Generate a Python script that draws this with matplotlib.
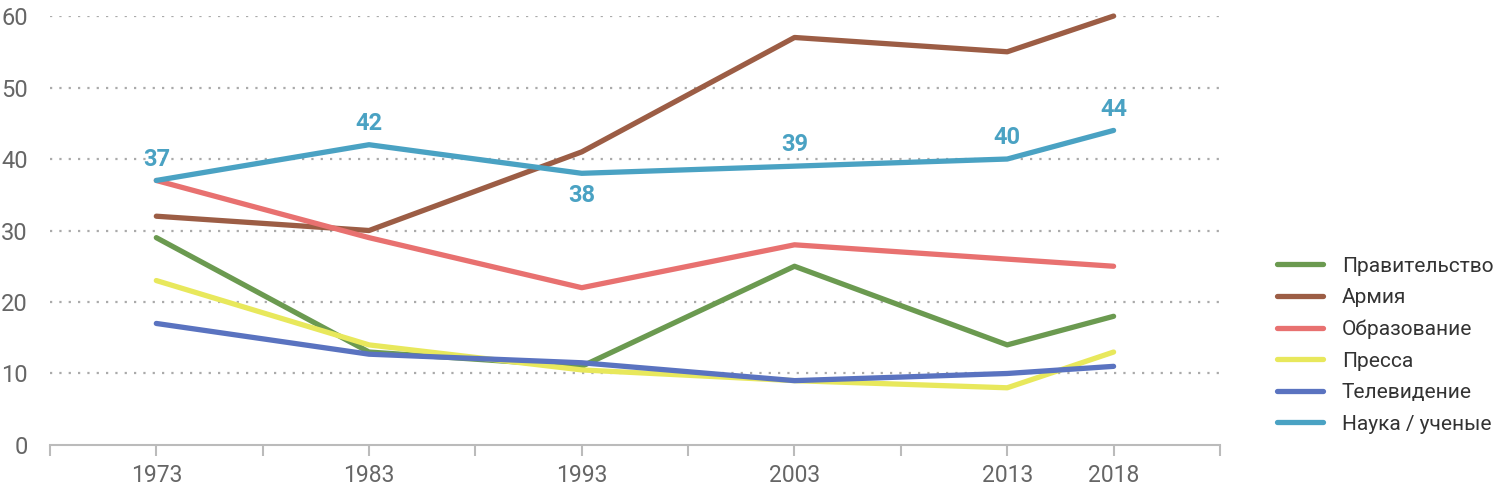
import matplotlib.pyplot as plt

years = [1973, 1983, 1993, 2003, 2013, 2018]
tick_years = [1968, 1973, 1978, 1983, 1988, 1993, 1998, 2003, 2008, 2013, 2018, 2023]
shown_labels = [1973, 1983, 1993, 2003, 2013, 2018]

# confidence, %
pravitelstvo = [29, 13, 11, 25, 14, 18]
armiya = [32, 30, 41, 57, 55, 60]
obrazovanie = [37, 29, 22, 28, 26, 25]
pressa = [23, 14, 10.5, 9, 8, 13]
televidenie = [17, 12.7, 11.5, 9, 10, 11]
nauka = [37, 42, 38, 39, 40, 44]

series = [
    ('Правительство', pravitelstvo, '#6b9a50'),
    ('Армия', armiya, '#9c5d45'),
    ('Образование', obrazovanie, '#e87170'),
    ('Пресса', pressa, '#e8e85c'),
    ('Телевидение', televidenie, '#5a73c0'),
    ('Наука / ученые', nauka, '#4aa2c3'),
]
label_below = [False, False, True, False, False, False]

plt.rcParams['font.family'] = ['Roboto', 'DejaVu Sans']

fig = plt.figure(figsize=(15, 4.86), dpi=100)
ax = fig.add_axes([0.0333, 0.0844, 0.78, 0.8826])

for name, vals, col in series:
    ax.plot(years, vals, color=col, lw=3.8, label=name, clip_on=False,
            solid_capstyle='round', solid_joinstyle='round')

for x, v, below in zip(years, nauka, label_below):
    if below:
        ax.annotate(str(v), (x, v), xytext=(0, -8), textcoords='offset points',
                    ha='center', va='top', fontsize=17, fontweight='bold', color='#4aa2c3')
    else:
        ax.annotate(str(v), (x, v), xytext=(0, 7), textcoords='offset points',
                    ha='center', va='bottom', fontsize=17, fontweight='bold', color='#4aa2c3')

ax.set_xlim(1968, 2023)
ax.set_ylim(0, 60)
ax.set_xticks(tick_years)
ax.set_xticklabels([str(y) if y in shown_labels else '' for y in tick_years])
ax.set_yticks([0, 10, 20, 30, 40, 50, 60])

for y in [10, 20, 30, 40, 50, 60]:
    ax.axhline(y, color='#aaaaaa', lw=1.6, ls=(0, (1, 3.2)), zorder=0)

for s in ['top', 'right', 'left']:
    ax.spines[s].set_visible(False)
ax.spines['bottom'].set_color('#bbbbbb')
ax.spines['bottom'].set_linewidth(1.5)
ax.tick_params(axis='x', direction='out', length=8, width=1.5, color='#bbbbbb',
               labelsize=16.5, labelcolor='#666666', pad=6)
ax.tick_params(axis='y', length=0, labelsize=17, labelcolor='#666666', pad=16)

fig.legend(loc='center left', bbox_to_anchor=(0.846, 0.29), frameon=False,
           fontsize=15, labelcolor='#333333', handlelength=2.2, handletextpad=0.9,
           labelspacing=0.6, borderaxespad=0)

fig.savefig('out.png', dpi=100)
